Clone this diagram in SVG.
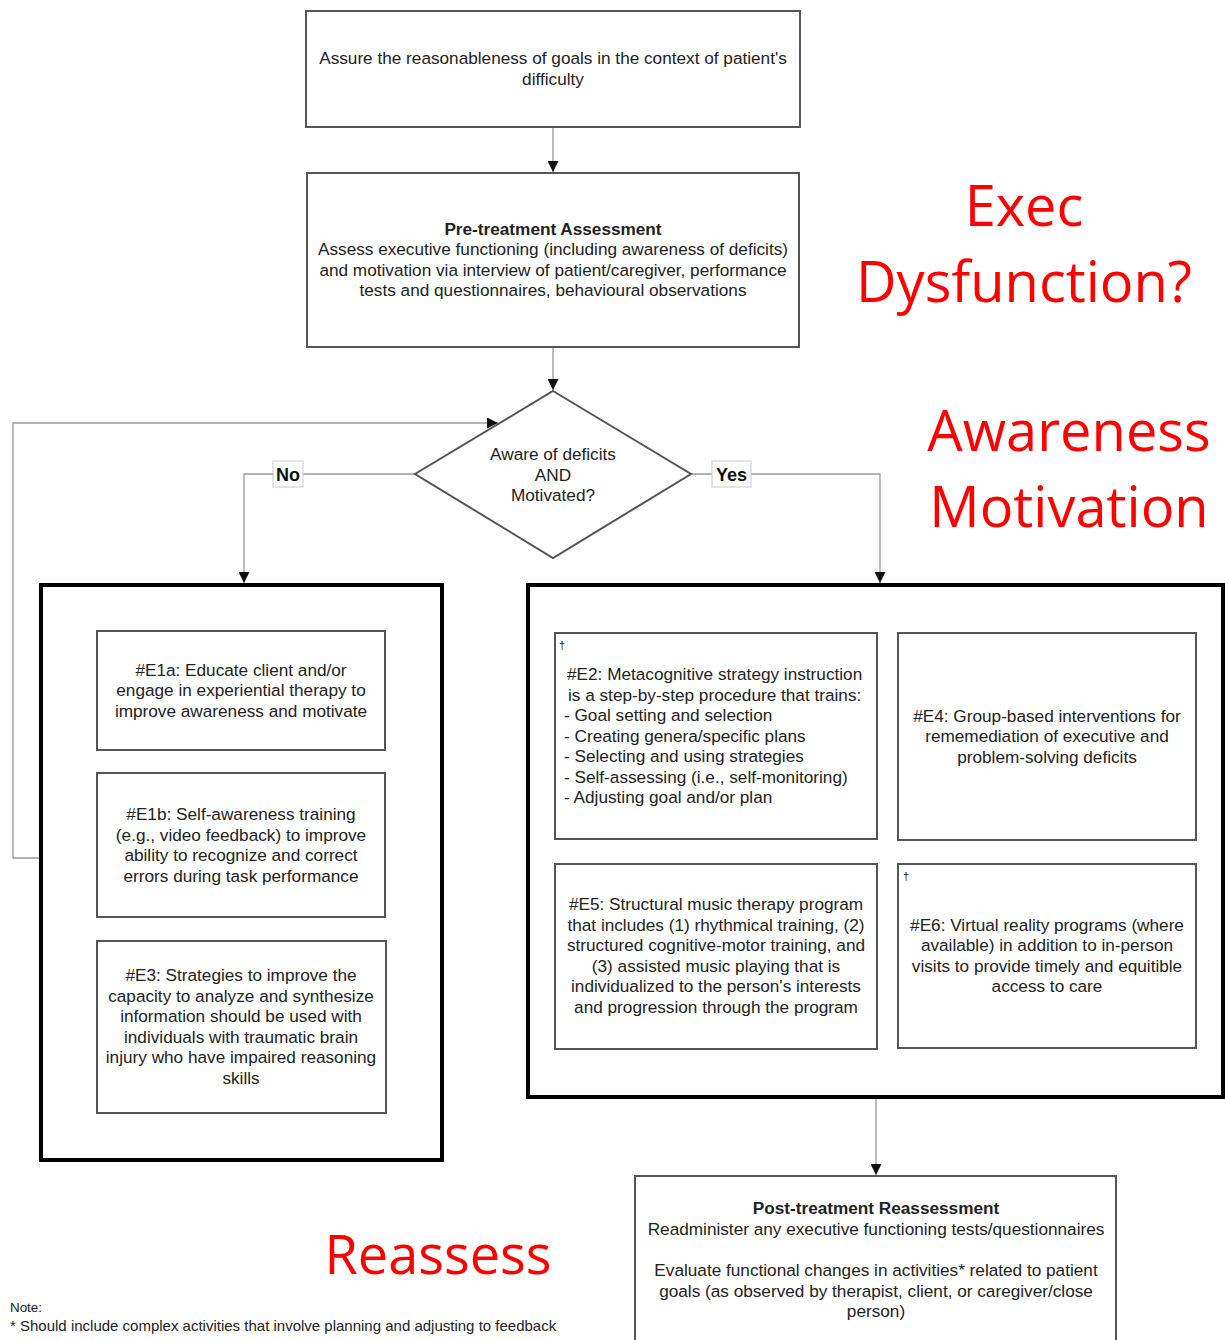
<svg xmlns="http://www.w3.org/2000/svg" width="1225" height="1340" viewBox="0 0 1225 1340">
  <defs>
    <marker id="arrow" viewBox="0 0 10 10" refX="10" refY="5" markerWidth="11" markerHeight="11" markerUnits="userSpaceOnUse" orient="auto">
      <path d="M0,0 L10,5 L0,10 z" fill="#111"/>
    </marker>
    <style>
      .box { fill: #fff; stroke: #555; stroke-width: 2; }
      .frame { fill: none; stroke: #000; stroke-width: 4; }
      .conn { fill: none; stroke: #9a9a9a; stroke-width: 1.3; }
      .t { font-family: "Liberation Sans", Arial, sans-serif; font-size: 17.2px; fill: #222; text-anchor: middle; }
      .tl { text-anchor: start; }
      .b { font-weight: bold; }
      .lbl { font-family: "Liberation Sans", Arial, sans-serif; font-size: 18px; font-weight: bold; fill: #111; text-anchor: middle; }
      .lblbox { fill: #fff; stroke: #c8c8c8; stroke-width: 1; }
      .dag { font-family: "Liberation Sans", Arial, sans-serif; font-size: 11px; fill: #222; }
      .red { font-family: "Open Sans", "Noto Sans", sans-serif; font-size: 56px; fill: #ff0000; text-anchor: middle; }
      .red-sm { font-size: 54px; }
      .note { font-family: "Liberation Sans", Arial, sans-serif; fill: #222; }
    </style>
  </defs>

  <rect width="1225" height="1340" fill="#fff"/>

  <!-- connectors -->
  <g id="connectors">
    <line class="conn" x1="553" y1="127" x2="553" y2="172" marker-end="url(#arrow)"/>
    <line class="conn" x1="553" y1="347" x2="553" y2="390" marker-end="url(#arrow)"/>
    <polyline class="conn" points="415,474 244,474 244,583" marker-end="url(#arrow)"/>
    <polyline class="conn" points="691,474 880,474 880,583" marker-end="url(#arrow)"/>
    <polyline class="conn" points="40,858 13,858 13,423 498,423" marker-end="url(#arrow)"/>
    <line class="conn" x1="876" y1="1098" x2="876" y2="1175" marker-end="url(#arrow)"/>
    <g id="label-no">
      <rect class="lblbox" x="273" y="461" width="30" height="26"/>
      <text class="lbl" x="288" y="481">No</text>
    </g>
    <g id="label-yes">
      <rect class="lblbox" x="712" y="461" width="39" height="26"/>
      <text class="lbl" x="731.5" y="481">Yes</text>
    </g>
  </g>

  <!-- goals -->
  <g id="goals">
    <rect class="box" x="306" y="11" width="494" height="116"/>
    <text class="t" x="553" y="64">Assure the reasonableness of goals in the context of patient's</text>
    <text class="t" x="553" y="84.5">difficulty</text>
  </g>

  <!-- pre-treatment assessment -->
  <g id="pre-assessment">
    <rect class="box" x="307" y="173" width="492" height="174"/>
    <text class="t b" x="553" y="234.5">Pre-treatment Assessment</text>
    <text class="t" x="553" y="255">Assess executive functioning (including awareness of deficits)</text>
    <text class="t" x="553" y="275.5">and motivation via interview of patient/caregiver, performance</text>
    <text class="t" x="553" y="296">tests and questionnaires, behavioural observations</text>
  </g>

  <!-- decision -->
  <g id="decision">
    <polygon class="box" points="553,391 691,474 553,558 415,474"/>
    <text class="t" x="553" y="459.5">Aware of deficits</text>
    <text class="t" x="553" y="480.5">AND</text>
    <text class="t" x="553" y="501">Motivated?</text>
  </g>

  <!-- left intervention group -->
  <g id="group-no">
    <rect class="frame" x="41" y="585" width="401" height="575"/>
  </g>
  <g id="E1a">
    <rect class="box" x="97" y="631" width="288" height="119"/>
    <text class="t" x="241" y="675.5">#E1a: Educate client and/or</text>
    <text class="t" x="241" y="696">engage in experiential therapy to</text>
    <text class="t" x="241" y="716.5">improve awareness and motivate</text>
  </g>
  <g id="E1b">
    <rect class="box" x="97" y="773" width="288" height="144"/>
    <text class="t" x="241" y="820">#E1b: Self-awareness training</text>
    <text class="t" x="241" y="840.5">(e.g., video feedback) to improve</text>
    <text class="t" x="241" y="861">ability to recognize and correct</text>
    <text class="t" x="241" y="881.5">errors during task performance</text>
  </g>
  <g id="E3">
    <rect class="box" x="97" y="941" width="289" height="172"/>
    <text class="t" x="241" y="981">#E3: Strategies to improve the</text>
    <text class="t" x="241" y="1001.5">capacity to analyze and synthesize</text>
    <text class="t" x="241" y="1022">information should be used with</text>
    <text class="t" x="241" y="1042.5">individuals with traumatic brain</text>
    <text class="t" x="241" y="1063">injury who have impaired reasoning</text>
    <text class="t" x="241" y="1083.5">skills</text>
  </g>

  <!-- right intervention group -->
  <g id="group-yes">
    <rect class="frame" x="528" y="585" width="695" height="512"/>
  </g>
  <g id="E2">
    <rect class="box" x="555" y="633" width="322" height="206"/>
    <text class="dag" x="559" y="649">†</text>
    <text class="t tl" x="567" y="680">#E2: Metacognitive strategy instruction</text>
    <text class="t tl" x="568" y="700.5">is a step-by-step procedure that trains:</text>
    <text class="t tl" x="564" y="721">- Goal setting and selection</text>
    <text class="t tl" x="564" y="741.5">- Creating genera/specific plans</text>
    <text class="t tl" x="564" y="762">- Selecting and using strategies</text>
    <text class="t tl" x="564" y="782.5">- Self-assessing (i.e., self-monitoring)</text>
    <text class="t tl" x="564" y="803">- Adjusting goal and/or plan</text>
  </g>
  <g id="E4">
    <rect class="box" x="898" y="633" width="298" height="207"/>
    <text class="t" x="1047" y="721.5">#E4: Group-based interventions for</text>
    <text class="t" x="1047" y="742">rememediation of executive and</text>
    <text class="t" x="1047" y="762.5">problem-solving deficits</text>
  </g>
  <g id="E5">
    <rect class="box" x="555" y="864" width="322" height="185"/>
    <text class="t" x="716" y="910">#E5: Structural music therapy program</text>
    <text class="t" x="716" y="930.5">that includes (1) rhythmical training, (2)</text>
    <text class="t" x="716" y="951">structured cognitive-motor training, and</text>
    <text class="t" x="716" y="971.5">(3) assisted music playing that is</text>
    <text class="t" x="716" y="992">individualized to the person's interests</text>
    <text class="t" x="716" y="1012.5">and progression through the program</text>
  </g>
  <g id="E6">
    <rect class="box" x="898" y="864" width="298" height="184"/>
    <text class="dag" x="903" y="880">†</text>
    <text class="t" x="1047" y="930.5">#E6: Virtual reality programs (where</text>
    <text class="t" x="1047" y="951">available) in addition to in-person</text>
    <text class="t" x="1047" y="971.5">visits to provide timely and equitible</text>
    <text class="t" x="1047" y="992">access to care</text>
  </g>

  <!-- post-treatment reassessment -->
  <g id="post-assessment">
    <rect class="box" x="635" y="1176" width="481" height="180"/>
    <text class="t b" x="876" y="1214">Post-treatment Reassessment</text>
    <text class="t" x="876" y="1234.5">Readminister any executive functioning tests/questionnaires</text>
    <text class="t" x="876" y="1276">Evaluate functional changes in activities* related to patient</text>
    <text class="t" x="876" y="1296.5">goals (as observed by therapist, client, or caregiver/close</text>
    <text class="t" x="876" y="1317">person)</text>
  </g>

  <!-- red annotations -->
  <g id="annotations">
    <text class="red" x="1024" y="226">Exec</text>
    <text class="red" x="1024" y="302">Dysfunction?</text>
    <text class="red" x="1069" y="451">Awareness</text>
    <text class="red" x="1069" y="527">Motivation</text>
    <text class="red red-sm" x="438" y="1274">Reassess</text>
  </g>

  <!-- footnote -->
  <g id="note">
    <text class="note" x="10" y="1312" font-size="13.4">Note:</text>
    <text class="note" x="10" y="1331" font-size="15">* Should include complex activities that involve planning and adjusting to feedback</text>
  </g>
</svg>
